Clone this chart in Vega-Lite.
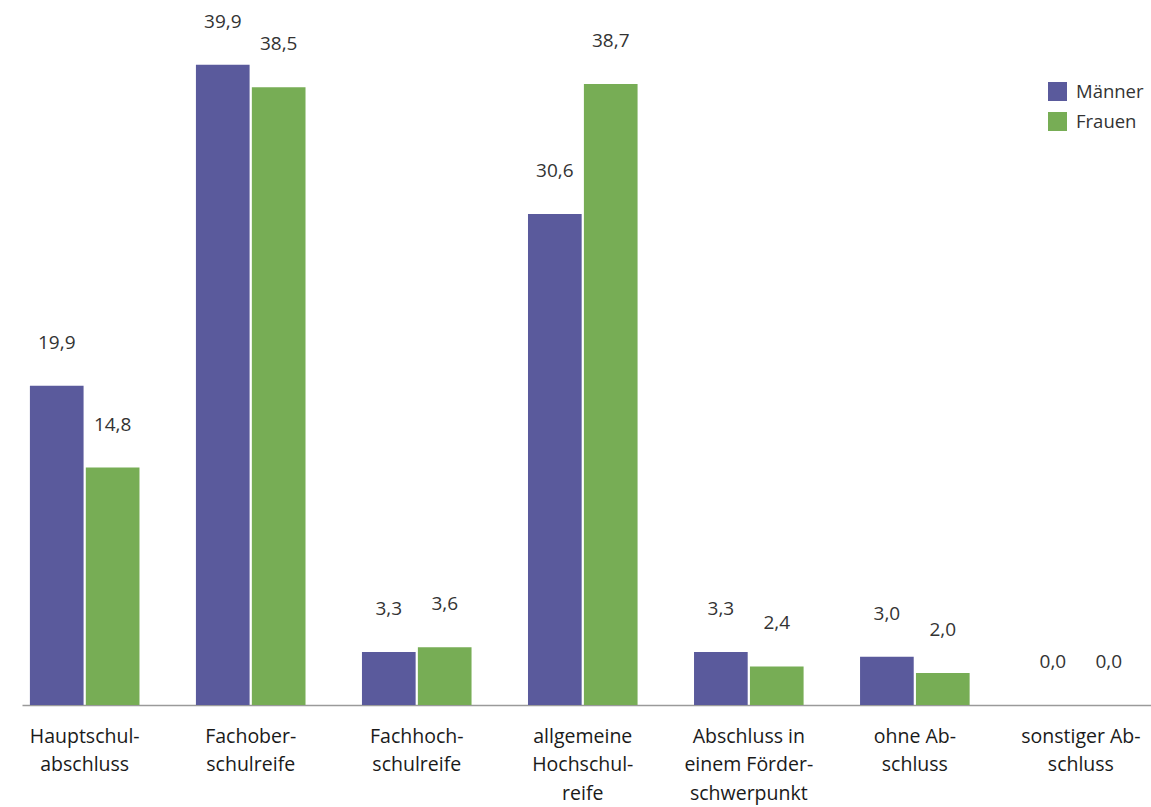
{
  "$schema": "https://vega.github.io/schema/vega-lite/v6.json",
  "autosize": {"type": "none"},
  "padding": {"left": 22, "top": 15, "right": 0, "bottom": 102},
  "width": 1129,
  "height": 690,
  "background": "white",
  "config": {
    "view": {"stroke": null},
    "locale": {"number": {"decimal": ",", "thousands": ".", "grouping": [3], "currency": ["", " €"]}},
    "font": "Open Sans"
  },
  "data": {
    "values": [
      {"kategorie": "Hauptschul-|abschluss", "geschlecht": "Männer", "anteil": 19.9},
      {"kategorie": "Hauptschul-|abschluss", "geschlecht": "Frauen", "anteil": 14.8},
      {"kategorie": "Fachober-|schulreife", "geschlecht": "Männer", "anteil": 39.9},
      {"kategorie": "Fachober-|schulreife", "geschlecht": "Frauen", "anteil": 38.5},
      {"kategorie": "Fachhoch-|schulreife", "geschlecht": "Männer", "anteil": 3.3},
      {"kategorie": "Fachhoch-|schulreife", "geschlecht": "Frauen", "anteil": 3.6},
      {"kategorie": "allgemeine|Hochschul-|reife", "geschlecht": "Männer", "anteil": 30.6},
      {"kategorie": "allgemeine|Hochschul-|reife", "geschlecht": "Frauen", "anteil": 38.7},
      {"kategorie": "Abschluss in|einem Förder-|schwerpunkt", "geschlecht": "Männer", "anteil": 3.3},
      {"kategorie": "Abschluss in|einem Förder-|schwerpunkt", "geschlecht": "Frauen", "anteil": 2.4},
      {"kategorie": "ohne Ab-|schluss", "geschlecht": "Männer", "anteil": 3.0},
      {"kategorie": "ohne Ab-|schluss", "geschlecht": "Frauen", "anteil": 2.0},
      {"kategorie": "sonstiger Ab-|schluss", "geschlecht": "Männer", "anteil": 0.0},
      {"kategorie": "sonstiger Ab-|schluss", "geschlecht": "Frauen", "anteil": 0.0}
    ]
  },
  "encoding": {
    "x": {
      "field": "kategorie",
      "type": "nominal",
      "sort": null,
      "title": null,
      "scale": {"paddingInner": 0.34, "paddingOuter": 0.07, "align": 0.34},
      "axis": {
        "labelAngle": 0,
        "labelExpr": "split(datum.value, '|')",
        "labelFontSize": 19.5,
        "labelColor": "#1a1a1a",
        "labelLineHeight": 28.5,
        "labelPadding": 22,
        "labelBaseline": "top",
        "ticks": false,
        "domainColor": "#9a9a9a",
        "domainWidth": 1.5,
        "grid": false
      }
    },
    "xOffset": {
      "field": "geschlecht",
      "type": "nominal",
      "sort": ["Männer", "Frauen"],
      "scale": {"paddingInner": 0.04}
    },
    "y": {
      "field": "anteil",
      "type": "quantitative",
      "scale": {"domain": [0, 43], "nice": false},
      "axis": null
    }
  },
  "layer": [
    {
      "mark": {"type": "bar"},
      "encoding": {
        "color": {
          "field": "geschlecht",
          "type": "nominal",
          "sort": ["Männer", "Frauen"],
          "scale": {"domain": ["Männer", "Frauen"], "range": ["#5a5a9c", "#77ad55"]},
          "legend": {
            "title": null,
            "orient": "none",
            "legendX": 1026,
            "legendY": 67,
            "symbolType": "square",
            "symbolSize": 361,
            "symbolStrokeWidth": 0,
            "labelFontSize": 18.5,
            "labelColor": "#333333",
            "labelOffset": 9,
            "rowPadding": 11
          }
        }
      }
    },
    {
      "mark": {"type": "text", "baseline": "middle", "align": "center", "dy": -43, "fontSize": 19, "color": "#333333"},
      "encoding": {
        "text": {"field": "anteil", "type": "quantitative", "format": ".1f"}
      }
    }
  ]
}
